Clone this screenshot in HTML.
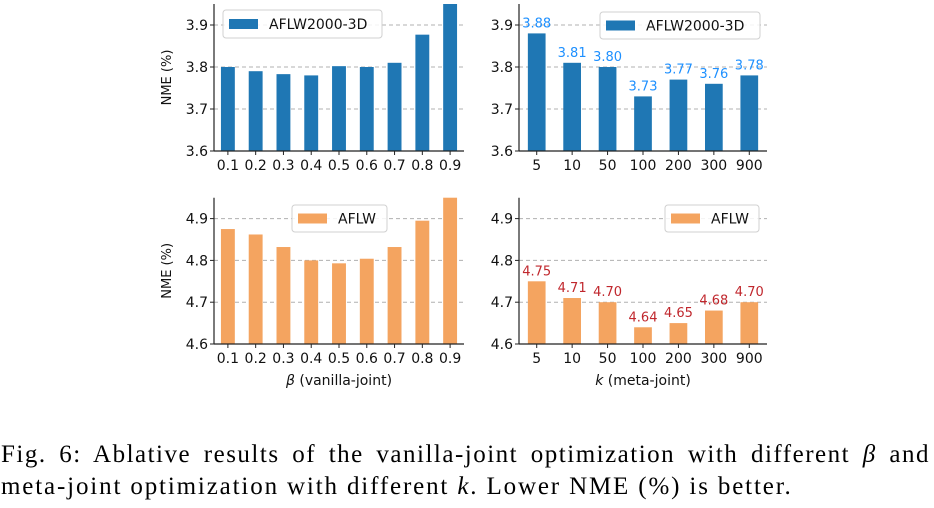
<!DOCTYPE html>
<html><head><meta charset="utf-8">
<style>
body{margin:0;background:#fff;width:934px;height:508px;overflow:hidden;position:relative}
svg{position:absolute;left:0;top:0}
.cap{position:absolute;left:1px;width:929px;font-family:"Liberation Serif",serif;font-size:25px;letter-spacing:1.85px;line-height:32px;color:#000;white-space:nowrap}
.l1{top:439px;text-align:justify;text-align-last:justify;white-space:normal;letter-spacing:1.5px}
.l2{top:471px}
</style></head><body>
<svg id="chart" width="934" height="420"></svg>
<div class="cap l1">Fig. 6: Ablative results of the vanilla-joint optimization with different <i>β</i> and</div>
<div class="cap l2">meta-joint optimization with different <i>k</i>. Lower NME (%) is better.</div>
<script>
const betaCats=["0.1","0.2","0.3","0.4","0.5","0.6","0.7","0.8","0.9"];
const kCats=["5","10","50","100","200","300","900"];
const aflw2000Beta=[3.80,3.79,3.783,3.78,3.802,3.80,3.81,3.877,3.96];
const aflwBeta=[4.875,4.862,4.832,4.80,4.793,4.804,4.832,4.895,4.96];
const aflw2000K=[3.88,3.81,3.80,3.73,3.77,3.76,3.78];
const aflwK=[4.75,4.71,4.70,4.64,4.65,4.68,4.70];
const ticksTop=[3.6,3.7,3.8,3.9];
const ticksBot=[4.6,4.7,4.8,4.9];
const NS="http://www.w3.org/2000/svg";
const svg=document.getElementById('chart');
function mk(tag,attrs,parent){const e=document.createElementNS(NS,tag);for(const k in attrs)e.setAttribute(k,attrs[k]);(parent||svg).appendChild(e);return e;}
const F='"DejaVu Sans","Liberation Sans",sans-serif';
function panel(o){
  const g=mk('g',{});
  
  
  const yS=v=>o.y0-(v-o.vmin)/0.1*o.ppu;
  const step=(o.x1-o.x0)/o.cats.length;
  const xS=i=>o.x0+step*(i+0.5);
  o.ticks.forEach(t=>{
    if(t>o.vmin){const gl=mk('line',{x1:o.x0,x2:o.x1,y1:yS(t),y2:yS(t),stroke:'#b0b0b0','stroke-dasharray':'4,3','stroke-width':1},g);
    }
    const tl=mk('text',{x:o.x0-6,y:yS(t)+5,'text-anchor':'end','font-size':14,'font-family':F,fill:'#111'},g);
    tl.textContent=t.toFixed(1);
    
    mk('line',{x1:o.x0-4,x2:o.x0,y1:yS(t),y2:yS(t),stroke:'#222'},g);
  });
  const top=o.y0-(o.vtop-o.vmin)/0.1*o.ppu;
  o.vals.forEach((v,i)=>{
    const vv=Math.min(v,o.vtop);
    const b=mk('rect',{x:xS(i)-step*0.25,y:yS(vv),width:step*0.5,height:o.y0-yS(vv),fill:o.color},g);
    
    if(o.labels){const t=mk('text',{x:xS(i),y:yS(v)-6,'text-anchor':'middle','font-size':13,'font-family':F,fill:o.lcolor},g);
      t.textContent=v.toFixed(2);}
    const xl=mk('text',{x:xS(i),y:o.y0+19,'text-anchor':'middle','font-size':14,'font-family':F,fill:'#111'},g);
    xl.textContent=o.cats[i];
    mk('line',{x1:xS(i),x2:xS(i),y1:o.y0,y2:o.y0+4,stroke:'#222'},g);
  });
  const ax=mk('line',{x1:o.x0,x2:o.x0,y1:top,y2:o.y0,stroke:'#222','stroke-width':1.2},g);
  
  const bx=mk('line',{x1:o.x0,x2:o.x1,y1:o.y0,y2:o.y0,stroke:'#222','stroke-width':1.2},g);
  
  const L=o.leg;
  const lg=mk('g',{},g);
  
  mk('rect',{x:L[0],y:L[1],width:L[2],height:L[3],rx:3,fill:'#fff','fill-opacity':0.85,stroke:'#d0d0d0'},lg);
  mk('rect',{x:L[0]+6,y:L[1]+L[3]/2-5,width:29,height:10,fill:o.color},lg);
  const lt=mk('text',{x:L[0]+46,y:L[1]+L[3]/2+5,'font-size':14,'font-family':F,fill:'#111'},lg);
  lt.textContent=o.series;
  if(o.ylab){const yl=mk('text',{transform:`translate(${o.x0-43},${(top+o.y0)/2}) rotate(-90)`,'text-anchor':'middle','font-size':13,'font-family':F,fill:'#111'},g);
    yl.textContent='NME (%)';}
  if(o.xlab){const xl=mk('text',{x:(o.x0+o.x1)/2,y:o.y0+41,'text-anchor':'middle','font-size':14,'font-family':F,fill:'#111'},g);
    const i1=mk('tspan',{'font-style':'italic'},xl);i1.textContent=o.xlab[0];
    const t2=mk('tspan',{},xl);t2.textContent=' '+o.xlab[1];
    }
}
panel({name:'panel-aflw2000-beta',cats:betaCats,vals:aflw2000Beta,ticks:ticksTop,vmin:3.6,vtop:3.95,x0:214,x1:464,y0:151,ppu:42,color:'#1f77b4',leg:[223,10,159,28],series:'AFLW2000-3D',ylab:true});
panel({name:'panel-aflw2000-k',cats:kCats,vals:aflw2000K,ticks:ticksTop,vmin:3.6,vtop:3.95,x0:519,x1:767,y0:151,ppu:42,color:'#1f77b4',labels:true,lcolor:'#1e90ff',leg:[600,12,160,27],series:'AFLW2000-3D'});
panel({name:'panel-aflw-beta',cats:betaCats,vals:aflwBeta,ticks:ticksBot,vmin:4.6,vtop:4.95,x0:214,x1:464,y0:344,ppu:41.8,color:'#f4a460',leg:[292,205,95,27],series:'AFLW',ylab:true,xlab:['β','(vanilla-joint)']});
panel({name:'panel-aflw-k',cats:kCats,vals:aflwK,ticks:ticksBot,vmin:4.6,vtop:4.95,x0:519,x1:767,y0:344,ppu:41.8,color:'#f4a460',labels:true,lcolor:'#c0272d',leg:[665,205,94,27],series:'AFLW',xlab:['k','(meta-joint)']});
</script>
</body></html>
